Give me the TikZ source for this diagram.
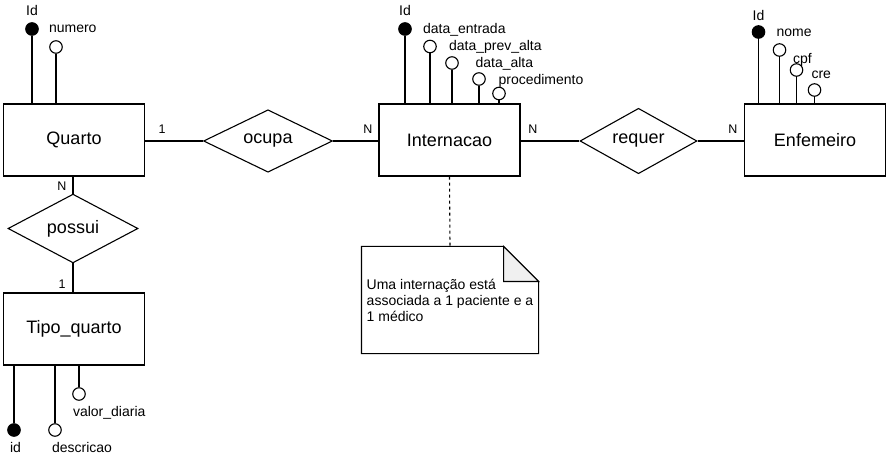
\documentclass[tikz,border=0pt]{standalone}
\usepackage{fontspec}
\setmainfont{Liberation Sans}
\usetikzlibrary{shapes.geometric,calc,backgrounds}
\begin{document}
\begin{tikzpicture}[x=1pt,y=-1pt,line width=1.1pt,
  entity/.style={draw,rectangle,minimum width=141pt,minimum height=72pt,inner sep=0pt,font=\fontsize{18}{20}\selectfont},
  rel/.style={draw,diamond,inner sep=0pt,font=\fontsize{18}{20}\selectfont},
  keyattr/.style={draw,circle,fill=black,minimum size=12.5pt,inner sep=0pt},
  attr/.style={draw,circle,fill=white,minimum size=12.5pt,inner sep=0pt},
  alabel/.style={inner sep=0pt,anchor=base west,font=\fontsize{14}{16}\selectfont},
  card/.style={inner sep=0pt,anchor=base,font=\fontsize{12.5}{14}\selectfont},
  conn/.style={draw,line width=1.1pt},
  notebox/.style={rectangle,minimum width=176pt,minimum height=106pt,inner xsep=2pt,inner ysep=0pt,align=left,font=\fontsize{14}{16}\selectfont}]
\useasboundingbox (0,0) rectangle (888,462);

% entities
\node[entity] (quarto) at (74,140) {Quarto};
\node[entity] (intern) at (449.5,140) {Internacao};
\node[entity] (enf) at (815,140) {Enfemeiro};
\node[entity] (tipo) at (74,329) {Tipo\_quarto};

% relationships
\node[rel,minimum width=129pt,minimum height=58pt] (ocupa) at (268,141) {ocupa};
\node[rel,minimum width=117pt,minimum height=48pt] (requer) at (638.5,141) {requer};
\node[rel,minimum width=130pt,minimum height=59pt] (possui) at (73,228.5) {possui};

% relationship lines
\draw[conn] (quarto.east |- ocupa.west) -- (ocupa.west);
\draw[conn] (ocupa.east) -- (intern.west |- ocupa.east);
\draw[conn] (intern.east |- requer.west) -- (requer.west);
\draw[conn] (requer.east) -- (enf.west |- requer.east);
\draw[conn] (quarto.south -| possui.north) -- (possui.north);
\draw[conn] (possui.south) -- (tipo.north -| possui.south);

% cardinalities
\node[card] (c1) at (162,134) {1};
\node[card] (c2) at (368,134) {N};
\node[card] (c3) at (533,134) {N};
\node[card] (c4) at (733,134) {N};
\node[card] (c5) at (62,191) {N};
\node[card] (c6) at (62,288) {1};

% Quarto attributes
\node[keyattr] (qid) at (32,29) {};
\node[attr] (qnum) at (56,47) {};
\draw[conn] (qid) -- (qid |- quarto.north);
\draw[conn] (qnum) -- (qnum |- quarto.north);
\node[alabel,anchor=base] (lqid) at (32,16) {Id};
\node[alabel] (lqnum) at (48.5,33) {numero};

% Internacao attributes
\node[keyattr] (iid) at (405,29) {};
\node[attr] (ide) at (430,46.5) {};
\node[attr] (idpa) at (452,63) {};
\node[attr] (ida) at (479,79) {};
\node[attr] (ipr) at (499,93.5) {};
\foreach \n in {iid,ide,idpa,ida,ipr}{\draw[conn] (\n) -- (\n |- intern.north);}
\node[alabel,anchor=base] (liid) at (405,16) {Id};
\node[alabel] (lide) at (422.5,34) {data\_entrada};
\node[alabel] (lidpa) at (448.5,51) {data\_prev\_alta};
\node[alabel] (lida) at (475,68) {data\_alta};
\node[alabel] (lipr) at (498,85) {procedimento};

% Enfemeiro attributes
\node[keyattr] (eid) at (758.5,32) {};
\node[attr] (enome) at (779.5,50) {};
\node[attr] (ecpf) at (796.5,70) {};
\node[attr] (ecre) at (814.5,90) {};
\foreach \n in {eid,enome,ecpf,ecre}{\draw[conn] (\n) -- (\n |- enf.north);}
\node[alabel,anchor=base] (leid) at (758.5,20.5) {Id};
\node[alabel] (lenome) at (776,37) {nome};
\node[alabel] (lecpf) at (792.5,63.5) {cpf};
\node[alabel] (lecre) at (811,79) {cre};

% Tipo_quarto attributes
\node[keyattr] (tid) at (14,430) {};
\node[attr] (tdesc) at (55,430) {};
\node[attr] (tval) at (79,394) {};
\foreach \n in {tid,tdesc,tval}{\draw[conn] (\n) -- (\n |- tipo.south);}
\node[alabel,anchor=base] (ltid) at (15.5,452) {id};
\node[alabel] (ltdesc) at (51.5,452) {descricao};
\node[alabel] (ltval) at (72.5,416) {valor\_diaria};

% note
\node[notebox] (note) at (450,300) {Uma internação está\\associada a 1 paciente e a\\1 médico};
\begin{scope}[on background layer]
\fill[white] (0,0) rectangle (888,462);
\draw[line width=1.1pt,fill=white] (note.north west) -- ($(note.north east)+(-35,0)$) -- ($(note.north east)+(0,35)$) -- (note.south east) -- (note.south west) -- cycle;
\draw[line width=1.1pt,fill=black!6] ($(note.north east)+(-35,0)$) -- ($(note.north east)+(-35,35)$) -- ($(note.north east)+(0,35)$) -- cycle;
\end{scope}
\draw[line width=1.1pt,dash pattern=on 3pt off 3pt] (intern.south) -- (note.north);
\end{tikzpicture}
\end{document}
